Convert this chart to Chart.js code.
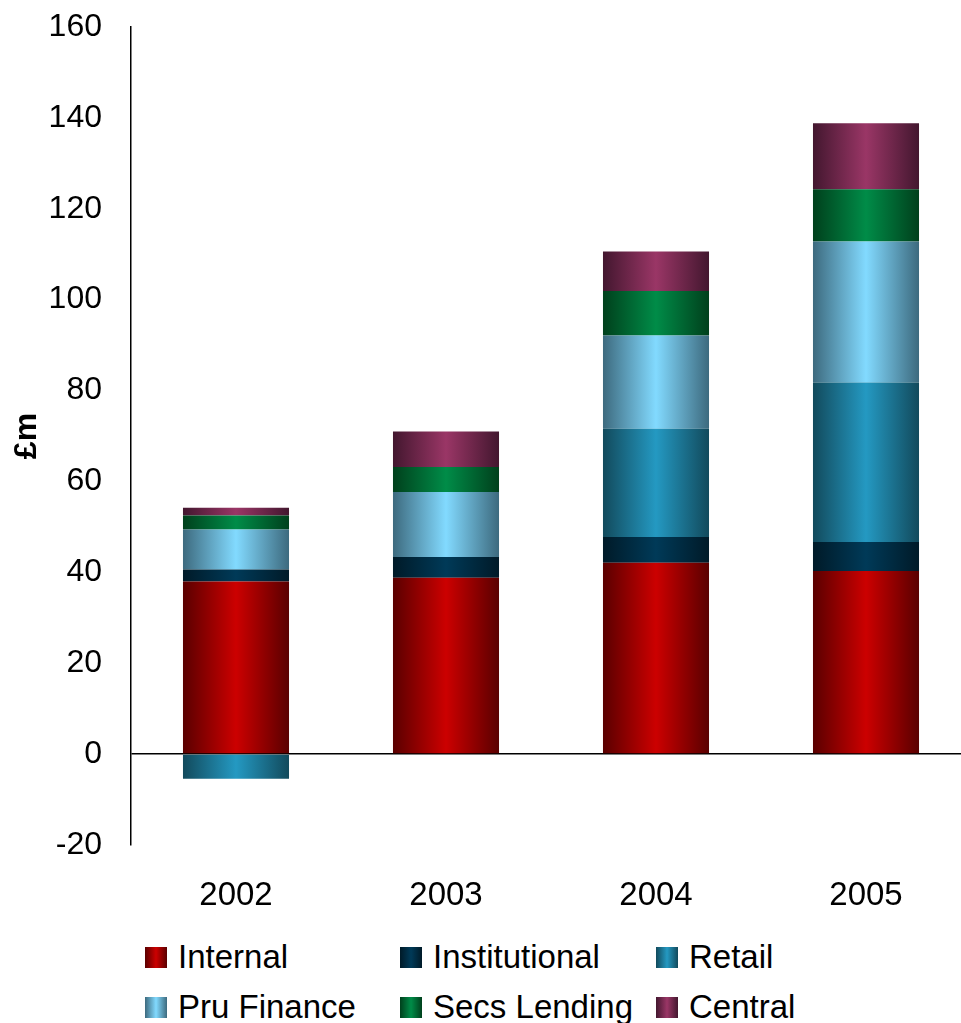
<!DOCTYPE html>
<html>
<head>
<meta charset="utf-8">
<script src="https://cdn.jsdelivr.net/npm/chart.js@4.4.0/dist/chart.umd.min.js"></script>
<style>
  html, body { margin: 0; padding: 0; background: #fff; overflow: hidden; }
  #wrap { position: relative; width: 961px; height: 1023px; overflow: hidden; }
  #chart { position: absolute; left: 0; top: 0; }
  .item { position: absolute; height: 40px; display: flex; align-items: center;
          font-family: "Liberation Sans", Arial, sans-serif; font-size: 33px; color: #000; white-space: nowrap; }
  .box { width: 22px; height: 21px; margin-right: 11px; flex: none; }
</style>
</head>
<body>
<div id="wrap">
  <canvas id="chart" width="975" height="930"></canvas>
  <div id="legend"></div>
</div>
<script>
// years and profit by business line, £m
var years = ['2002', '2003', '2004', '2005'];
var seriesNames = ['Internal', 'Institutional', 'Retail', 'Pru Finance', 'Secs Lending', 'Central'];
var internal     = [38.0, 38.8, 42.1, 40.3];
var institutional = [2.6, 4.6, 5.7, 6.4];
var retail       = [-5.4, 0, 23.8, 35.1];
var pruFinance   = [8.8, 14.3, 20.5, 31.0];
var secsLending  = [3.1, 5.5, 9.8, 11.5];
var central      = [1.7, 7.8, 8.7, 14.5];
var yTicks = [-20, 0, 20, 40, 60, 80, 100, 120, 140, 160];

// [edge, centre] shades for the cylinder look
var shades = [
  ['#5a0000', '#cc0000'],
  ['#001a28', '#003a58'],
  ['#124a5c', '#2499c2'],
  ['#3d6a7e', '#82daff'],
  ['#00401c', '#008c48'],
  ['#43172f', '#9a3666']
];
var barPct = 0.505;

function barFill(i) {
  return function(ctx) {
    var chart = ctx.chart;
    var xs = chart.scales && chart.scales.x;
    if (!chart.chartArea || !xs || ctx.type !== 'data') return shades[i][1];
    var cx = xs.getPixelForValue(ctx.dataIndex);
    var half = (xs.width / years.length) * barPct / 2;
    var g = chart.ctx.createLinearGradient(cx - half, 0, cx + half, 0);
    g.addColorStop(0, shades[i][0]);
    g.addColorStop(0.5, shades[i][1]);
    g.addColorStop(1, shades[i][0]);
    return g;
  };
}

var values = [internal, institutional, retail, pruFinance, secsLending, central];
var datasets = seriesNames.map(function(name, i) {
  return {
    label: name,
    data: values[i],
    backgroundColor: barFill(i),
    borderWidth: 0,
    categoryPercentage: 1,
    barPercentage: barPct
  };
});

new Chart(document.getElementById('chart'), {
  type: 'bar',
  data: { labels: years, datasets: datasets },
  options: {
    responsive: false,
    animation: false,
    devicePixelRatio: 1,
    layout: { padding: { top: 27, right: 4, left: 0, bottom: 0 } },
    plugins: { legend: { display: false }, tooltip: { enabled: false } },
    scales: {
      x: {
        stacked: true,
        grid: { display: false, drawTicks: false },
        border: { display: false },
        ticks: { color: '#000', padding: 31, font: { family: 'Liberation Sans', size: 33 } },
        afterFit: function(s) { s.height = 85; s.paddingLeft = 0; s.paddingRight = 0; }
      },
      y: {
        stacked: true,
        min: -20,
        max: 160,
        afterBuildTicks: function(s) { s.ticks = yTicks.map(function(v) { return { value: v }; }); },
        grid: {
          drawTicks: false,
          color: function(c) { return c.tick && c.tick.value === 0 ? '#000' : 'rgba(0,0,0,0)'; },
          lineWidth: 1.5
        },
        border: { display: true, color: '#000', width: 1.5 },
        ticks: { color: '#000', padding: 29, font: { family: 'Liberation Sans', size: 32 } },
        title: {
          display: true,
          text: '£m',
          color: '#000',
          padding: { top: 8, bottom: 0 },
          font: { family: 'Liberation Sans', size: 32, weight: 'bold' }
        },
        afterFit: function(s) { s.width = 131; s.paddingTop = 0; s.paddingBottom = 0; }
      }
    }
  }
});

// legend laid out in three columns
var legendCols = [145, 400, 656];
var legendRows = [937, 987];
var legend = document.getElementById('legend');
seriesNames.forEach(function(name, i) {
  var item = document.createElement('div');
  item.className = 'item';
  item.style.left = legendCols[i % 3] + 'px';
  item.style.top = legendRows[Math.floor(i / 3)] + 'px';
  var box = document.createElement('span');
  box.className = 'box';
  box.style.background = 'linear-gradient(to right, ' + shades[i][0] + ', ' + shades[i][1] + ', ' + shades[i][0] + ')';
  var txt = document.createElement('span');
  txt.textContent = name;
  item.appendChild(box);
  item.appendChild(txt);
  legend.appendChild(item);
});
</script>
</body>
</html>
